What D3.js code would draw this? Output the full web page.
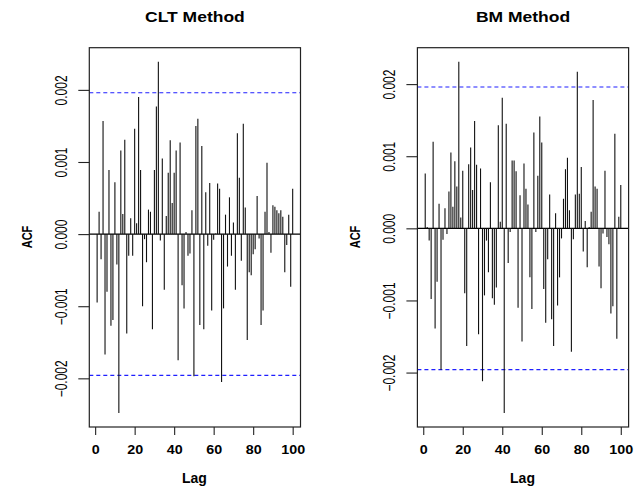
<!DOCTYPE html>
<html>
<head>
<meta charset="utf-8">
<script src="https://cdn.jsdelivr.net/npm/d3@7"></script>
<style>
  body { margin: 0; background: #fff; }
  text { font-family: "Liberation Sans", Arial, sans-serif; fill: #000; }
</style>
</head>
<body>
<div id="canvas"></div>
<script>
"use strict"

/* Data: sample ACF, lags 1..100 */
let lags = d3.range(1, 101);

let cltAcf = [
    -0.00095, 0.00031, -0.00035, 0.00157, -0.00167, -0.0008, 0.00089, -0.00127, -0.00119, 0.00072,
    -0.00042, -0.00248, 0.00116, 0.00028, 0.00131, -0.00138, -0.0003, 0.00022, -0.0003, 0.00146,
    0.00015, 0.0019, 0.00089, -0.001, -0.00007, -0.00039, 0.00034, 0.00031, -0.00132, 0.00089,
    0.00177, 0.00239, -0.00009, 0.00105, -0.00077, 0.00025, 0.00085, 0.0013, 0.00043, 0.00085,
    0.00116, -0.00175, 0.00127, -0.00071, -0.00103, 0.00003, -0.0003, -0.00027, 0.00033, -0.00197,
    0.0015, 0.0016, -0.00126, 0.00122, -0.00132, 0.00058, -0.00016, 0.00071, -0.00106, -0.00008,
    0.00001, 0.0007, 0.00063, -0.00205, -0.00103, 0.00027, -0.00045, 0.00051, -0.0003, 0.00016,
    -0.00077, 0.0014, 0.00078, -0.00037, 0.00153, 0.00037, -0.00147, -0.00053, -0.00057, -0.00028,
    -0.00021, 0.00053, -0.00006, -0.00126, -0.00106, 0.00031, 0.00099, 0.00003, -0.00026, 0.0004,
    0.00038, 0.00033, 0.00029, 0.00033, 0.00024, -0.00053, -0.00015, 0.00027, -0.00073, 0.00063
];

let bmAcf = [
    0.00076, 0.00002, -0.00017, -0.00098, 0.0012, -0.00139, -0.00074, 0.00034, -0.00196, -0.00016,
    0.00028, -0.00008, 0.00051, 0.00105, 0.0003, 0.00093, 0.00058, 0.00231, 0.00015, 0.0008,
    -0.0009, -0.00163, 0.00089, 0.00112, 0.00053, 0.00149, 0.00088, -0.00147, 0.00083, -0.00212,
    -0.00093, -0.00017, -0.00061, 0.00064, -0.00097, -0.00106, -0.00082, 0.00143, 0.00009, 0.00181,
    -0.00256, 0.00145, -0.00048, -0.00005, 0.00094, 0.00094, 0.00079, -0.0011, 0.00046, -0.00157,
    0.0009, 0.00055, 0.00033, -0.00068, -0.00112, 0.00133, -0.00005, 0.00073, 0.00155, 0.00119,
    -0.00084, -0.00131, -0.00043, 0.00047, -0.00126, -0.00163, 0.00021, -0.00107, -0.00068, -0.00014,
    0.00041, 0.00082, 0.00098, 0.00025, -0.00171, -0.00015, 0.00047, 0.00217, 0.00048, 0.00085,
    -0.00032, 0.0001, -0.00054, 0.00002, 0.00023, 0.00178, 0.00058, 0.00055, -0.00053, -0.00083,
    -0.00007, 0.0008, -0.00012, -0.00022, -0.00118, -0.00108, 0.00131, -0.00153, 0.00016, 0.0006
];

let titles = ["CLT Method", "BM Method"];
let confLimit = 0.00196;
let xTicks = [0, 20, 40, 60, 80, 100];
let yTicks = [-0.002, -0.001, 0, 0.001, 0.002];

/* Drawing config */
let svgWidth = 642;
let svgHeight = 486;
let boxTop = 47.7;
let boxBottom = 427;
let boxWidth = 211.2;
let boxLefts = [89.3, 417.4];

let svg = d3.select("#canvas")
    .append("svg")
    .attr("width", svgWidth)
    .attr("height", svgHeight);

/* R style range padding of 4% */
function padRange(lo, hi) {
    let d = (hi - lo) * 0.04;
    return [lo - d, hi + d];
}

function drawPanel(values, title, left) {
    let xDom = padRange(d3.min(lags), d3.max(lags));
    let x = d3.scaleLinear()
        .domain(xDom)
        .range([left, left + boxWidth]);

    let yLo = Math.min(d3.min(values), -confLimit);
    let yHi = Math.max(d3.max(values), confLimit);
    let y = d3.scaleLinear()
        .domain(padRange(yLo, yHi))
        .range([boxBottom, boxTop]);

    let g = svg.append("g");

    /* zero line */
    g.append("line")
        .attr("x1", left)
        .attr("x2", left + boxWidth)
        .attr("y1", y(0))
        .attr("y2", y(0))
        .attr("stroke", "#000")
        .attr("stroke-width", 1.1);

    /* confidence bounds */
    [confLimit, -confLimit].forEach(function (c) {
        g.append("line")
            .attr("x1", left)
            .attr("x2", left + boxWidth)
            .attr("y1", y(c))
            .attr("y2", y(c))
            .attr("stroke", "#1f1fff")
            .attr("stroke-width", 1.2)
            .attr("stroke-dasharray", "4,3");
    });

    /* ACF spikes */
    g.selectAll("line.spike")
        .data(values)
        .join("line")
        .attr("class", "spike")
        .attr("x1", function (v, i) { return x(lags[i]); })
        .attr("x2", function (v, i) { return x(lags[i]); })
        .attr("y1", y(0))
        .attr("y2", function (v) { return y(v); })
        .attr("stroke", "#111")
        .attr("stroke-width", 1.1);

    /* box */
    g.append("rect")
        .attr("x", left)
        .attr("y", boxTop)
        .attr("width", boxWidth)
        .attr("height", boxBottom - boxTop)
        .attr("fill", "none")
        .attr("stroke", "#222")
        .attr("stroke-width", 1.2);

    /* x axis */
    let xAxis = g.append("g")
        .attr("transform", "translate(0," + boxBottom + ")")
        .call(d3.axisBottom(x).tickValues(xTicks).tickSize(8).tickSizeOuter(0));
    xAxis.select(".domain").remove();
    xAxis.selectAll("line").attr("stroke", "#222").attr("stroke-width", 1.1);
    xAxis.selectAll("text")
        .attr("y", 27)
        .attr("dy", null)
        .attr("fill", "#000")
        .style("font-size", "13px")
        .style("font-weight", "bold")
        .attr("transform", "scale(1.1,1)");

    /* y axis */
    let yAxis = g.append("g")
        .attr("transform", "translate(" + left + ",0)")
        .call(d3.axisLeft(y).tickValues(yTicks).tickSize(11).tickFormat(d3.format(".3f")));
    yAxis.select(".domain").remove();
    yAxis.selectAll("line").attr("stroke", "#222").attr("stroke-width", 1.1);
    yAxis.selectAll("text")
        .attr("x", null)
        .attr("dy", null)
        .attr("text-anchor", "middle")
        .attr("fill", "#000")
        .style("font-size", "12px")
        .attr("transform", "translate(-22.6,0) scale(1.3,1) rotate(-90)");

    /* labels */
    let cx = left + boxWidth / 2;
    svg.append("text")
        .attr("text-anchor", "middle")
        .attr("transform", "translate(" + cx + ",21.7) scale(1.25,1)")
        .style("font-size", "14px")
        .style("font-weight", "bold")
        .text(title);

    svg.append("text")
        .attr("text-anchor", "middle")
        .attr("transform", "translate(" + (cx - 0.5) + ",483.3)")
        .style("font-size", "14px")
        .style("font-weight", "bold")
        .text("Lag");

    svg.append("text")
        .attr("text-anchor", "middle")
        .attr("transform", "translate(" + (left - 57.5) + ",237) scale(1.3,1) rotate(-90)")
        .style("font-size", "11px")
        .style("font-weight", "bold")
        .text("ACF");
}

drawPanel(cltAcf, titles[0], boxLefts[0]);
drawPanel(bmAcf, titles[1], boxLefts[1]);
</script>
</body>
</html>
